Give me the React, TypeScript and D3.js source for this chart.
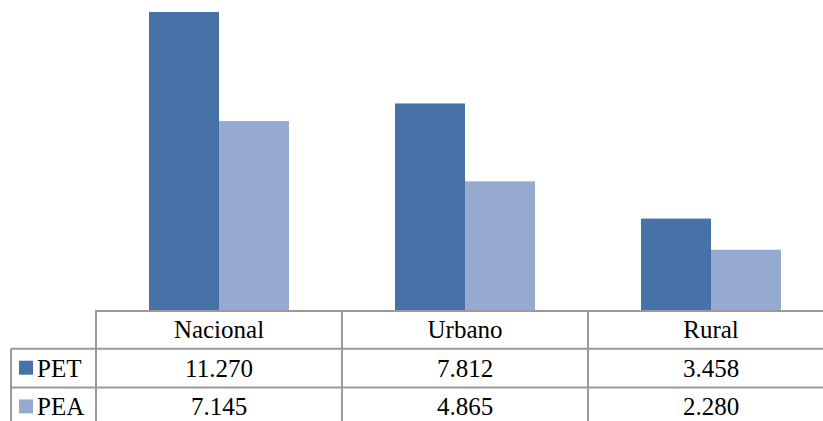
import React from 'react';
import * as d3 from 'd3';

const categories = ['Nacional', 'Urbano', 'Rural'];
const seriesNames = ['PET', 'PEA'];
const petValues = [11270, 7812, 3458];
const peaValues = [7145, 4865, 2280];
const valueLabels = [
  ['11.270', '7.812', '3.458'],
  ['7.145', '4.865', '2.280'],
];
const colors = ['#4672A7', '#95A9D1'];

const width = 823;
const height = 421;

const App: React.FC = () => {
  const baseline = 310;
  const tableLeft = 96;
  const labelLeft = 11;
  const rowH = 38.7;
  const fontSize = 25;
  const lineColor = '#9a9a9a';

  const x = d3.scaleBand().domain(categories).range([tableLeft, tableLeft + 246 * 3]).padding(0);
  const xInner = d3.scaleBand().domain(seriesNames).range([0, x.bandwidth()])
      .paddingInner(0).paddingOuter(0.757);
  const y = d3.scaleLinear().domain([0, 12000]).range([baseline, baseline - 317.3]);

  const series = [petValues, peaValues];
  const rightEdge = tableLeft + 246 * 3;

  return (
      <svg width={width} height={height}
           style={{position: 'absolute', left: 0, top: 0, background: '#fff',
             fontFamily: '"Liberation Serif", Tinos, "Times New Roman", Times, "Nimbus Roman", "Noto Serif", FreeSerif, "DejaVu Serif", serif'}}>
        {series.map((vals, si) => (
            <g key={seriesNames[si]}>
              {categories.map((c, ci) => (
                  <rect key={c}
                        x={(x(c) || 0) + (xInner(seriesNames[si]) || 0)}
                        y={y(vals[ci])}
                        width={xInner.bandwidth()}
                        height={baseline - y(vals[ci])}
                        fill={colors[si]}/>
              ))}
            </g>
        ))}

        {/* table grid */}
        <g stroke={lineColor} strokeWidth={2} fill="none">
          <line x1={tableLeft} x2={rightEdge} y1={baseline + 1} y2={baseline + 1}/>
          <line x1={labelLeft} x2={rightEdge} y1={baseline + rowH} y2={baseline + rowH}/>
          <line x1={labelLeft} x2={rightEdge} y1={baseline + rowH * 2} y2={baseline + rowH * 2}/>
          <line x1={labelLeft} x2={labelLeft} y1={baseline + rowH} y2={height}/>
          {categories.map(c => (
              <line key={c} x1={x(c)} x2={x(c)} y1={baseline} y2={height}/>
          ))}
        </g>

        {/* header */}
        {categories.map(c => (
            <text key={c} x={(x(c) || 0) + x.bandwidth() / 2} y={baseline + 28}
                  textAnchor="middle" fontSize={fontSize} fill="#000">{c}</text>
        ))}

        {/* rows */}
        {seriesNames.map((s, si) => (
            <g key={s}>
              <rect x={19} y={baseline + rowH * (si + 1) + 12} width={14} height={14} fill={colors[si]}/>
              <text x={37} y={baseline + rowH * (si + 1) + 28} fontSize={fontSize} fill="#000">{s}</text>
              {categories.map((c, ci) => (
                  <text key={c} x={(x(c) || 0) + x.bandwidth() / 2}
                        y={baseline + rowH * (si + 1) + 28}
                        textAnchor="middle" fontSize={fontSize} fill="#000">
                    {valueLabels[si][ci]}
                  </text>
              ))}
            </g>
        ))}
      </svg>
  );
};

export default App;
